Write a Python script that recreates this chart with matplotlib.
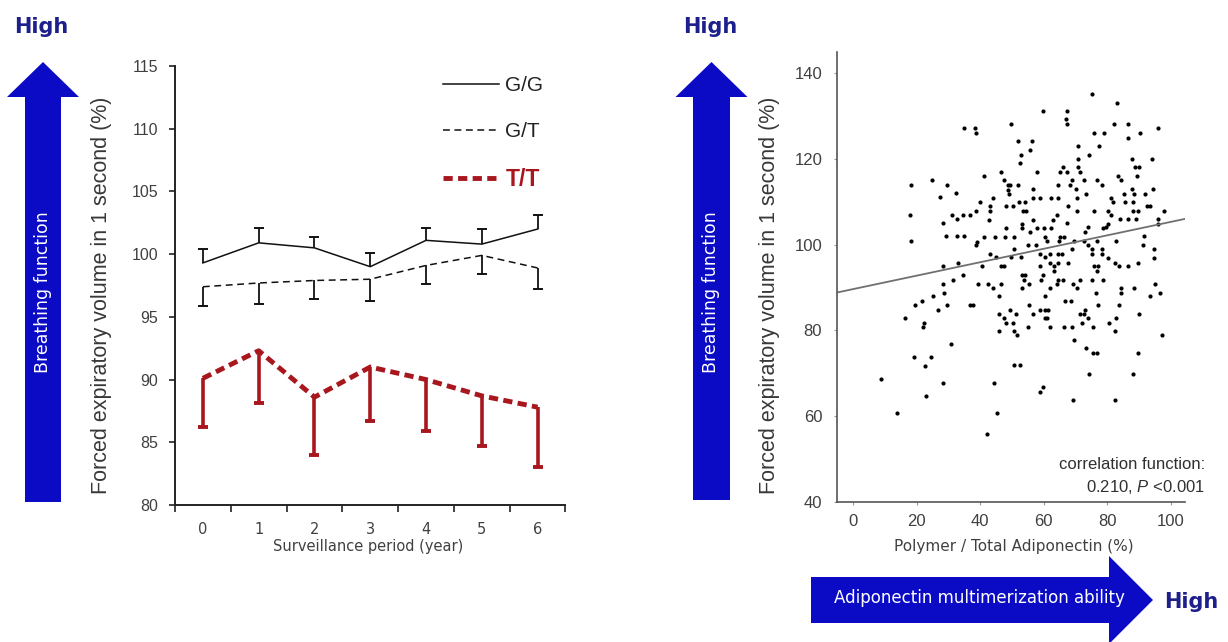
import numpy as np
import matplotlib
matplotlib.use("Agg")
import matplotlib.pyplot as plt
from matplotlib.lines import Line2D
from matplotlib.patches import FancyArrow

plt.rcParams['font.family'] = ['Liberation Sans', 'DejaVu Sans']
plt.rcParams['mathtext.fontset'] = 'custom'
plt.rcParams['mathtext.it'] = 'Liberation Sans:italic'
plt.rcParams['mathtext.rm'] = 'Liberation Sans'

############
# left panel : FEV1 by genotype over the follow-up years
years = [0, 1, 2, 3, 4, 5, 6]
year_labels = ['0', '1', '2', '3', '4', '5', '6']

gg_mean = [99.3, 100.9, 100.5, 99.0, 101.1, 100.8, 102.0]
gg_err = [1.1, 1.2, 0.9, 1.1, 1.0, 1.2, 1.1]      # drawn upward only
gt_mean = [97.4, 97.7, 97.9, 98.0, 99.1, 99.9, 98.9]
gt_err = [1.5, 1.7, 1.5, 1.7, 1.5, 1.5, 1.7]      # drawn downward only
tt_mean = [90.1, 92.3, 88.6, 91.0, 90.0, 88.7, 87.8]
tt_err = [3.9, 4.2, 4.6, 4.3, 4.1, 4.0, 4.8]      # drawn downward only

# right panel : FEV1 vs polymer / total adiponectin
polymer_pct = [
    35.0, 18.3, 24.8, 29.7, 32.3, 27.5, 17.8, 31.0, 32.6, 34.6, 36.8, 28.4, 18.2, 29.2, 32.8, 34.8,
    38.3, 38.8, 49.6, 59.8, 67.4, 67.0, 67.2, 51.8, 56.4, 55.8, 52.8, 52.5, 70.6, 41.2, 46.4, 47.4,
    48.7, 49.5, 48.7, 49.0, 52.0, 58.0, 56.6, 64.5, 65.9, 65.0, 67.3, 68.3, 69.0, 70.2, 70.6, 70.6,
    43.9, 40.0, 38.7, 43.2, 43.2, 48.1, 50.2, 52.3, 54.0, 53.5, 54.3, 56.5, 58.8, 62.2, 64.4, 67.6,
    70.4, 64.0, 62.8, 42.8, 56.5, 53.3, 53.0, 48.2, 55.7, 58.0, 60.0, 62.3, 67.4, 41.1, 44.7, 47.8,
    50.5, 39.1, 38.7, 60.3, 61.1, 65.2, 66.3, 64.8, 69.4, 54.9, 57.6, 50.7, 69.0, 43.2, 58.8, 61.8,
    64.4, 65.7, 45.0, 49.7, 52.8, 60.3, 71.4,
    75.1, 83.1, 82.1, 86.4, 75.9, 79.0, 86.6, 90.2, 95.8, 77.3, 74.2, 87.7, 94.0, 88.8, 89.9, 89.2,
    83.3, 84.4, 72.5, 76.6, 78.2, 87.7, 88.5, 94.4, 70.4, 73.2, 85.2, 91.8, 81.1, 81.8, 85.6, 88.0,
    92.4, 93.5, 75.8, 80.2, 81.1, 88.2, 89.5, 97.8, 83.9, 86.4, 89.0, 96.0, 96.0, 80.2, 79.4, 73.8,
    72.8, 78.7, 91.6, 72.5, 76.6, 82.8, 91.1, 74.0, 75.3, 78.4, 94.7, 75.3, 78.4, 80.2, 94.7,
    28.3, 32.9, 31.4, 34.6, 28.3, 28.7, 25.3, 21.7, 19.4, 26.7, 29.7, 36.7, 37.8, 16.5, 22.3, 22.0,
    30.8, 19.3, 24.4, 22.8, 8.8, 28.2, 23.0, 13.8,
    40.6, 46.4, 47.4, 58.8, 62.1, 64.4, 67.5, 63.2, 63.2, 53.3, 54.0, 53.8, 59.8, 59.0, 64.4, 66.0,
    39.3, 42.4, 44.0, 46.4, 53.0, 55.4, 61.9, 64.0, 69.2, 45.8, 60.3, 55.4, 66.8, 68.6, 49.5, 58.8,
    60.3, 61.3, 45.8, 51.2, 56.7, 47.6, 48.0, 50.4, 60.3, 61.0, 54.9, 62.1, 66.3, 68.8, 45.8, 50.5,
    51.6, 69.4, 50.7, 52.6, 44.2, 59.8, 58.8, 69.1, 45.3, 42.1,
    75.8, 77.1, 76.8, 82.5, 83.5, 86.4, 89.5, 71.4, 75.3, 78.5, 70.4, 76.3, 84.2, 84.2, 88.5, 94.9,
    96.5, 93.4, 77.1, 83.5, 72.8, 71.4, 72.5, 74.0, 89.8, 72.0, 75.6, 80.5, 82.6, 82.5, 97.3, 73.2,
    75.6, 76.6, 89.5, 74.2, 88.0, 82.5,
]
fev1_pct = [
    127.1, 113.9, 115.0, 113.9, 112.0, 111.0, 106.9, 106.9, 105.9, 106.9, 106.9, 105.0, 100.9, 101.9, 101.9, 101.9,
    127.1, 126.0, 128.1, 131.1, 131.1, 129.2, 128.1, 124.1, 124.1, 122.1, 121.0, 119.0, 123.0, 116.0, 117.0, 115.0,
    113.9, 113.9, 112.8, 111.8, 113.9, 117.0, 112.9, 113.9, 118.0, 117.0, 117.0, 113.9, 115.0, 112.9, 120.0, 118.0,
    110.9, 109.9, 107.8, 108.9, 107.8, 108.9, 108.9, 109.9, 109.9, 107.8, 107.8, 110.9, 110.9, 110.9, 110.9, 108.9,
    107.8, 106.9, 105.8, 105.8, 105.8, 104.8, 103.8, 103.8, 102.9, 103.8, 103.8, 103.8, 105.0, 101.8, 101.8, 101.8,
    101.8, 100.7, 99.9, 101.8, 100.8, 101.8, 101.8, 100.8, 100.8, 99.9, 99.9, 98.9, 98.9, 97.9, 97.9, 97.9,
    97.9, 97.9, 97.0, 97.0, 97.0, 97.0, 117.0,
    135.1, 133.1, 128.1, 128.1, 126.0, 126.0, 124.9, 126.0, 127.1, 123.0, 121.0, 120.0, 120.0, 118.0, 118.0, 116.0,
    116.0, 115.0, 115.0, 115.0, 113.9, 112.9, 111.9, 112.9, 110.9, 111.9, 111.9, 111.9, 110.9, 109.9, 109.9, 109.9,
    108.9, 108.9, 107.8, 107.8, 106.9, 107.8, 107.8, 107.8, 105.9, 105.9, 105.9, 105.9, 104.9, 104.9, 104.0, 104.0,
    102.9, 103.8, 101.9, 100.9, 100.9, 100.9, 99.9, 99.9, 98.9, 98.9, 98.9, 97.9, 97.9, 96.9, 96.9,
    94.9, 95.8, 91.8, 92.8, 90.8, 88.8, 87.9, 86.8, 85.8, 84.8, 85.8, 85.8, 85.8, 82.8, 81.8, 80.8,
    76.8, 73.7, 73.7, 71.7, 68.7, 67.7, 64.7, 60.7,
    94.9, 94.9, 94.9, 94.9, 95.8, 95.8, 95.8, 94.9, 93.9, 92.9, 92.9, 91.8, 92.9, 91.8, 91.8, 91.8,
    90.8, 90.8, 89.8, 90.8, 89.8, 90.8, 89.8, 90.8, 90.8, 87.9, 87.9, 85.8, 86.8, 86.8, 84.8, 84.8,
    84.8, 84.8, 83.9, 83.9, 83.9, 82.8, 81.8, 81.8, 82.8, 82.8, 80.8, 80.8, 80.8, 80.8, 79.8, 79.8,
    78.8, 77.8, 71.8, 71.8, 67.7, 66.7, 65.7, 63.7, 60.7, 55.7,
    94.9, 94.9, 93.9, 95.8, 94.9, 94.9, 95.8, 91.8, 91.8, 91.8, 89.8, 88.8, 89.8, 88.8, 89.8, 90.8,
    88.8, 87.9, 85.8, 85.8, 84.8, 83.9, 83.9, 82.8, 83.9, 81.8, 80.8, 81.8, 82.8, 79.8, 78.8, 75.8,
    74.8, 74.8, 74.8, 69.7, 69.7, 63.7,
]
fit_intercept = 89.6
fit_slope = 0.157

blue = '#0B0BC6'
navy = '#1C1F8C'
red = '#A8161E'
ylab = 'Forced expiratory volume in 1 second (%)'

fig = plt.figure(figsize=(12.28, 6.42), dpi=100)

# background layer (pixel coords) for the blue arrows and "High" labels
bg = fig.add_axes([0, 0, 1, 1])
bg.set_xlim(0, 1228)
bg.set_ylim(642, 0)
bg.axis('off')
bg.add_patch(FancyArrow(43, 502, 0, -440, width=36, head_width=72, head_length=35,
                        length_includes_head=True, color=blue, lw=0))
bg.add_patch(FancyArrow(711.5, 500, 0, -438, width=37, head_width=72, head_length=35,
                        length_includes_head=True, color=blue, lw=0))
bg.add_patch(FancyArrow(811, 600, 342, 0, width=46, head_width=88, head_length=44,
                        length_includes_head=True, color=blue, lw=0))
for hx, hy in [(41, 27), (710, 27), (1191, 602)]:
    bg.text(hx, hy, 'High', color=navy, fontsize=15, fontweight='bold',
            family='DejaVu Sans', ha='center', va='center')
for bx in [43, 711.5]:
    bg.text(bx, 292, 'Breathing function', color='white', fontsize=12.5, family='DejaVu Sans',
            rotation=90, ha='center', va='center')
bg.text(979, 598, 'Adiponectin multimerization ability', color='white', fontsize=12,
        family='DejaVu Sans', ha='center', va='center')

############
# left panel
ax = fig.add_axes([0.1425, 0.2134, 0.318, 0.6838])
ax.plot(years, gg_mean, color='#111111', lw=1.1)
ax.plot(years, gt_mean, color='#111111', lw=1.1, dashes=(4.5, 3))
ax.plot(years, tt_mean, color=red, lw=3.5, dashes=(1.9, 1.1))

gg_top = np.array(gg_mean) + np.array(gg_err)
gt_bot = np.array(gt_mean) - np.array(gt_err)
tt_bot = np.array(tt_mean) - np.array(tt_err)
ax.vlines(years, gg_mean, gg_top, color='#111111', lw=1.3)
ax.plot(years, gg_top, ls='none', marker='_', ms=7, mew=1.4, color='#111111')
ax.vlines(years, gt_bot, gt_mean, color='#111111', lw=1.3)
ax.plot(years, gt_bot, ls='none', marker='_', ms=7, mew=1.4, color='#111111')
ax.vlines(years, tt_bot, tt_mean, color=red, lw=2.6)
ax.plot(years, tt_bot, ls='none', marker='_', ms=7, mew=2.8, color=red)

ax.set_xlim(-0.5, 6.5)
ax.set_ylim(80, 115)
ax.set_yticks(np.arange(80, 116, 5))
ax.set_xticks(np.arange(-0.5, 7, 1))
ax.set_xticklabels([])
ax.set_xticks(years, minor=True)
ax.set_xticklabels(year_labels, minor=True, family='DejaVu Sans', fontsize=10.5, color='#404040')
ax.tick_params(axis='x', which='major', length=5, width=1.2, color='#222222')
ax.tick_params(axis='x', which='minor', length=0, pad=12)
ax.tick_params(axis='y', length=4, width=1.2, color='#222222', labelsize=11.5,
               labelcolor='#404040', pad=8)
for s in ['top', 'right']:
    ax.spines[s].set_visible(False)
for s in ['left', 'bottom']:
    ax.spines[s].set_color('#222222')
    ax.spines[s].set_linewidth(1.4)
ax.set_ylabel(ylab, fontsize=15.5, color='#383838', va='center')
ax.yaxis.set_label_coords(-0.187, 0.478)
ax.set_xlabel('Surveillance period (year)', family='DejaVu Sans', fontsize=10.5,
              color='#404040', va='center')
ax.xaxis.set_label_coords(0.494, -0.095)

handles = [Line2D([], [], color='#111111', lw=1.1),
           Line2D([], [], color='#111111', lw=1.1, dashes=(4.5, 3)),
           Line2D([], [], color=red, lw=3.5, dashes=(1.9, 1.1))]
leg = ax.legend(handles, ['G/G', 'G/T', 'T/T'], loc='upper right', bbox_to_anchor=(0.97, 1.0),
                frameon=False, fontsize=15, handlelength=2.7, handletextpad=0.3,
                labelspacing=1.28, borderpad=0)
for t in leg.get_texts():
    t.set_color('#222222')
leg.get_texts()[2].set_color(red)
leg.get_texts()[2].set_fontweight('bold')
leg.get_texts()[2].set_fontsize(16.5)

############
# right panel
ax2 = fig.add_axes([0.6814, 0.2185, 0.2836, 0.701])
ax2.scatter(polymer_pct, fev1_pct, s=9, color='black', lw=0)
xl = (-5.1, 104.4)
fx = np.array(xl)
ax2.plot(fx, fit_intercept + fit_slope * fx, color='#707070', lw=1.3)
ax2.set_xlim(*xl)
ax2.set_ylim(40, 145)
ax2.set_xticks(np.arange(0, 101, 20))
ax2.set_yticks(np.arange(40, 141, 20))
ax2.tick_params(length=2.5, width=0.8, color='#999999', labelsize=12, labelcolor='#404040')
ax2.tick_params(axis='y', pad=8)
ax2.tick_params(axis='x', pad=6)
for s in ['top', 'right']:
    ax2.spines[s].set_visible(False)
for s in ['left', 'bottom']:
    ax2.spines[s].set_color('#555555')
    ax2.spines[s].set_linewidth(1.2)
ax2.set_ylabel(ylab, fontsize=15.5, color='#383838', va='center')
ax2.yaxis.set_label_coords(-0.194, 0.459)
ax2.set_xlabel('Polymer / Total Adiponectin (%)', family='DejaVu Sans', fontsize=11,
               color='#404040', va='center')
ax2.xaxis.set_label_coords(0.509, -0.1)
ax2.text(1.057, 0.082, 'correlation function:', transform=ax2.transAxes, ha='right',
         va='center', fontsize=12, color='#303030', clip_on=False)
ax2.text(1.057, 0.033, '0.210, $P$ <0.001', transform=ax2.transAxes, ha='right',
         va='center', fontsize=12, color='#303030', clip_on=False)

plt.savefig('out.png', dpi=100)
